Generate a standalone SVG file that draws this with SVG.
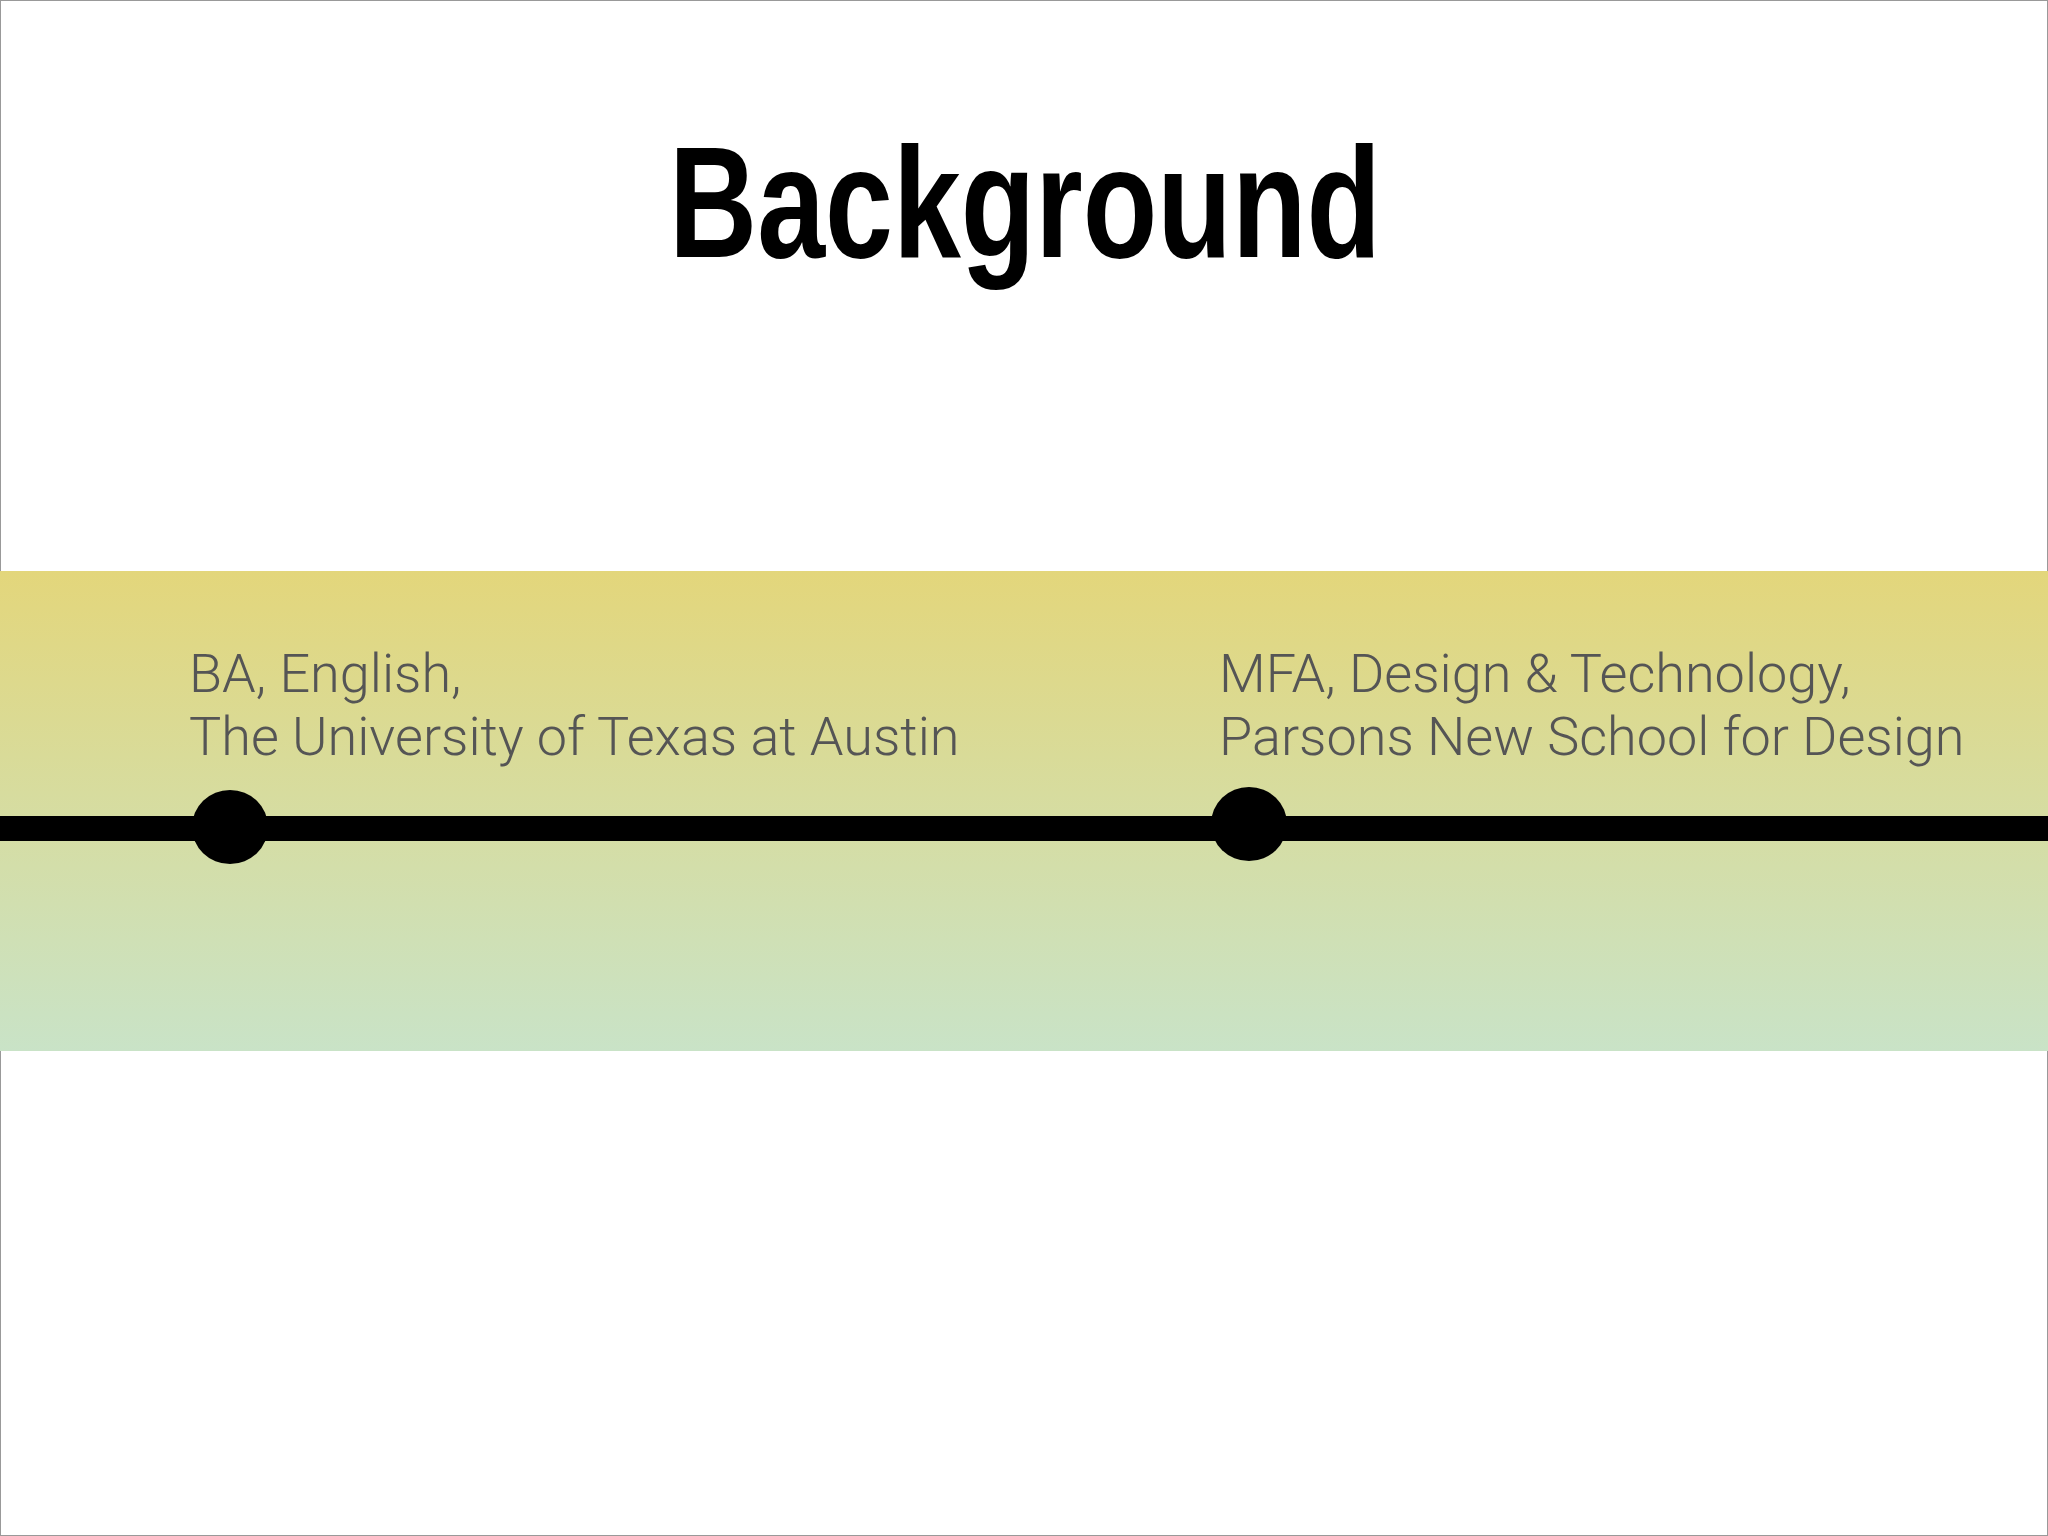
<svg xmlns="http://www.w3.org/2000/svg" width="2048" height="1536" viewBox="0 0 2048 1536">
<defs>
<linearGradient id="band" x1="0" y1="0" x2="0" y2="1">
<stop offset="0" stop-color="#e3d67b"/>
<stop offset="1" stop-color="#c9e3c7"/>
</linearGradient>
<style>
.lbl{font-family:Roboto,"Liberation Sans",sans-serif;font-weight:300;font-size:54px;fill:#555}
.dot{fill:#000}
</style>
</defs>
<rect x="0" y="0" width="2048" height="1536" fill="#fff" stroke="#999" stroke-width="2"/>
<text x="1025" y="257" text-anchor="middle" font-family="'Liberation Sans Narrow','Liberation Sans',sans-serif" font-weight="bold" font-size="158" textLength="712" lengthAdjust="spacingAndGlyphs">Background</text>
<rect x="0" y="571" width="2048" height="480" fill="url(#band)"/>
<g id="connectors"><rect x="0" y="816" width="2048" height="25" fill="#000"/></g>
<g id="n1"><ellipse class="dot" cx="230" cy="827" rx="38" ry="37"/>
<text class="lbl" x="189" y="692">BA, English,</text>
<text class="lbl" x="189" y="755">The University of Texas at Austin</text></g>
<g id="n2"><ellipse class="dot" cx="1249" cy="824" rx="38" ry="37"/>
<text class="lbl" x="1219" y="692">MFA, Design &amp; Technology,</text>
<text class="lbl" x="1219" y="755">Parsons New School for Design</text></g>
</svg>
